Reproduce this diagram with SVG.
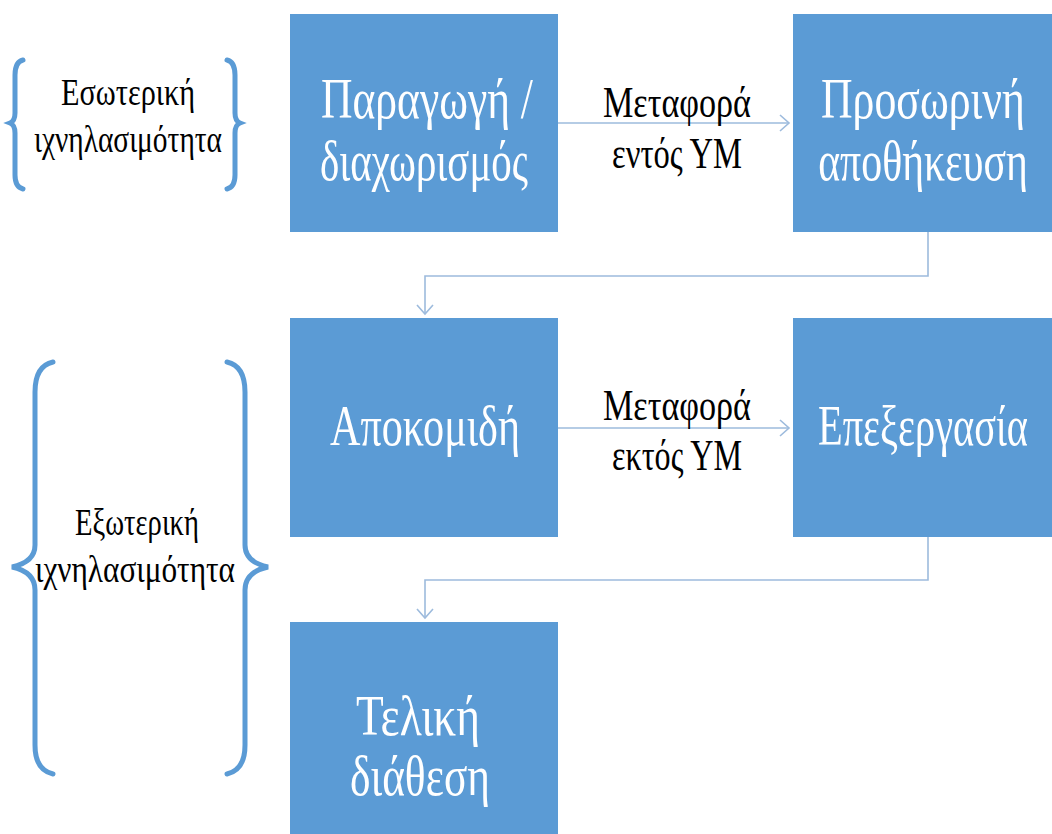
<svg xmlns="http://www.w3.org/2000/svg" width="1052" height="834" viewBox="0 0 1052 834">
<style>
.bt{font-family:"Liberation Serif","Times New Roman",serif;font-size:58px;fill:#ffffff;text-anchor:middle;}
.lt{font-family:"Liberation Serif","Times New Roman",serif;font-size:45px;fill:#000000;text-anchor:middle;}
.gt{font-family:"Liberation Serif","Times New Roman",serif;font-size:38px;fill:#000000;text-anchor:middle;}
.box{fill:#5B9BD5;}
.con{fill:none;stroke:#9DBBDD;stroke-width:1.6;}
.brace{fill:none;stroke:#5B9BD5;stroke-width:5;stroke-linecap:round;}
</style>
<defs>
<marker id="chev" markerWidth="12" markerHeight="18" refX="10" refY="9" orient="auto" markerUnits="userSpaceOnUse">
<path d="M1,1 L10,9 L1,17" fill="none" stroke="#9DBBDD" stroke-width="1.6"/>
</marker>
</defs>
<rect width="1052" height="834" fill="#ffffff"/>

<g id="brace-internal">
<path class="brace" d="M23,60 Q15,62 15,75 L15,113 Q15,121 10,123 Q15,125 15,133 L15,175 Q15,187 23,189"/>
<path class="brace" d="M227,60 Q235,62 235,75 L235,113 Q235,121 240,123 Q235,125 235,133 L235,175 Q235,187 227,189"/>
<text class="gt" x="128" y="105" textLength="134" lengthAdjust="spacingAndGlyphs">Εσωτερική</text>
<text class="gt" x="128" y="152" textLength="188" lengthAdjust="spacingAndGlyphs">ιχνηλασιμότητα</text>
</g>

<g id="brace-external">
<path class="brace" d="M53,362 Q35,366 35,392 L35,545 Q35,562 12,567 Q35,572 35,590 L35,745 Q35,770 53,774"/>
<path class="brace" d="M227,362 Q245,366 245,392 L245,545 Q245,562 268,567 Q245,572 245,590 L245,745 Q245,770 227,774"/>
<text class="gt" x="137" y="535" textLength="124" lengthAdjust="spacingAndGlyphs">Εξωτερική</text>
<text class="gt" x="135" y="582" textLength="200" lengthAdjust="spacingAndGlyphs">ιχνηλασιμότητα</text>
</g>

<g id="connectors">
<line class="con" x1="558" y1="123" x2="789" y2="123" marker-end="url(#chev)"/>
<line class="con" x1="558" y1="428" x2="789" y2="428" marker-end="url(#chev)"/>
<polyline class="con" points="928,232 928,276 425,276 425,314" marker-end="url(#chev)"/>
<polyline class="con" points="928,537 928,580 425,580 425,618" marker-end="url(#chev)"/>
</g>

<g id="label-entos">
<text class="lt" x="677" y="117" textLength="148" lengthAdjust="spacingAndGlyphs">Μεταφορά</text>
<text class="lt" x="677" y="168" textLength="130" lengthAdjust="spacingAndGlyphs">εντός ΥΜ</text>
</g>
<g id="label-ektos">
<text class="lt" x="677" y="420" textLength="148" lengthAdjust="spacingAndGlyphs">Μεταφορά</text>
<text class="lt" x="677" y="470" textLength="130" lengthAdjust="spacingAndGlyphs">εκτός ΥΜ</text>
</g>

<g id="node-paragogi">
<rect class="box" x="290" y="14" width="268" height="218"/>
<text class="bt" x="427" y="118" textLength="212" lengthAdjust="spacingAndGlyphs">Παραγωγή /</text>
<text class="bt" x="424" y="180" textLength="208" lengthAdjust="spacingAndGlyphs">διαχωρισμός</text>
</g>

<g id="node-prosorini">
<rect class="box" x="793" y="14" width="259" height="218"/>
<text class="bt" transform="translate(923,118) scale(0.8,1)" x="0" y="0" textLength="255" lengthAdjust="spacingAndGlyphs">Προσωρινή</text>
<text class="bt" transform="translate(923,180) scale(0.8,1)" x="0" y="0" textLength="262" lengthAdjust="spacingAndGlyphs">αποθήκευση</text>
</g>

<g id="node-apokomidi">
<rect class="box" x="290" y="318" width="268" height="219"/>
<text class="bt" x="425" y="445" textLength="190" lengthAdjust="spacingAndGlyphs">Αποκομιδή</text>
</g>

<g id="node-epexergasia">
<rect class="box" x="793" y="318" width="259" height="219"/>
<text class="bt" transform="translate(923,445) scale(0.7,1)" x="0" y="0" textLength="300" lengthAdjust="spacingAndGlyphs">Επεξεργασία</text>
</g>

<g id="node-teliki">
<rect class="box" x="290" y="622" width="268" height="212"/>
<text class="bt" x="418" y="735" textLength="124" lengthAdjust="spacingAndGlyphs">Τελική</text>
<text class="bt" x="420" y="795" textLength="140" lengthAdjust="spacingAndGlyphs">διάθεση</text>
</g>
</svg>
